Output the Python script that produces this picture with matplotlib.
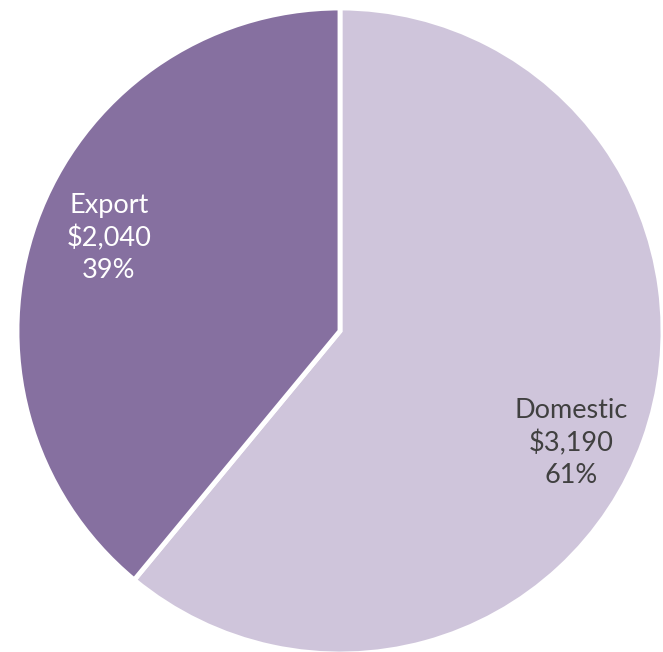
import matplotlib
matplotlib.use("Agg")
import matplotlib.pyplot as plt

categories = ["Domestic", "Export"]
values = [3190, 2040]
colors = ["#CFC5DB", "#8670A0"]
text_colors = ["#404040", "#FFFFFF"]

W, H = 663, 652
fig = plt.figure(figsize=(W / 100, H / 100), dpi=100)
ax = fig.add_axes([0, 0, 1, 1])

cx, cy, r = 340, H - 331, 323
ax.pie(values, colors=colors, startangle=90, counterclock=False,
       center=(cx, cy), radius=r, frame=True,
       wedgeprops=dict(edgecolor="white", linewidth=3.5))
ax.set_xlim(0, W)
ax.set_ylim(0, H)
ax.set_aspect("equal")
ax.axis("off")

total = sum(values)
label_pos = [(571, H - 443), (109, H - 238)]
for cat, val, tc, (x, y) in zip(categories, values, text_colors, label_pos):
    pct = round(val / total * 100)
    ax.text(x, y, f"{cat}\n${val:,}\n{pct}%", ha="center", va="center",
            fontsize=19.5, color=tc, family="Lato", linespacing=1.35)

fig.savefig("out.png", dpi=100)
